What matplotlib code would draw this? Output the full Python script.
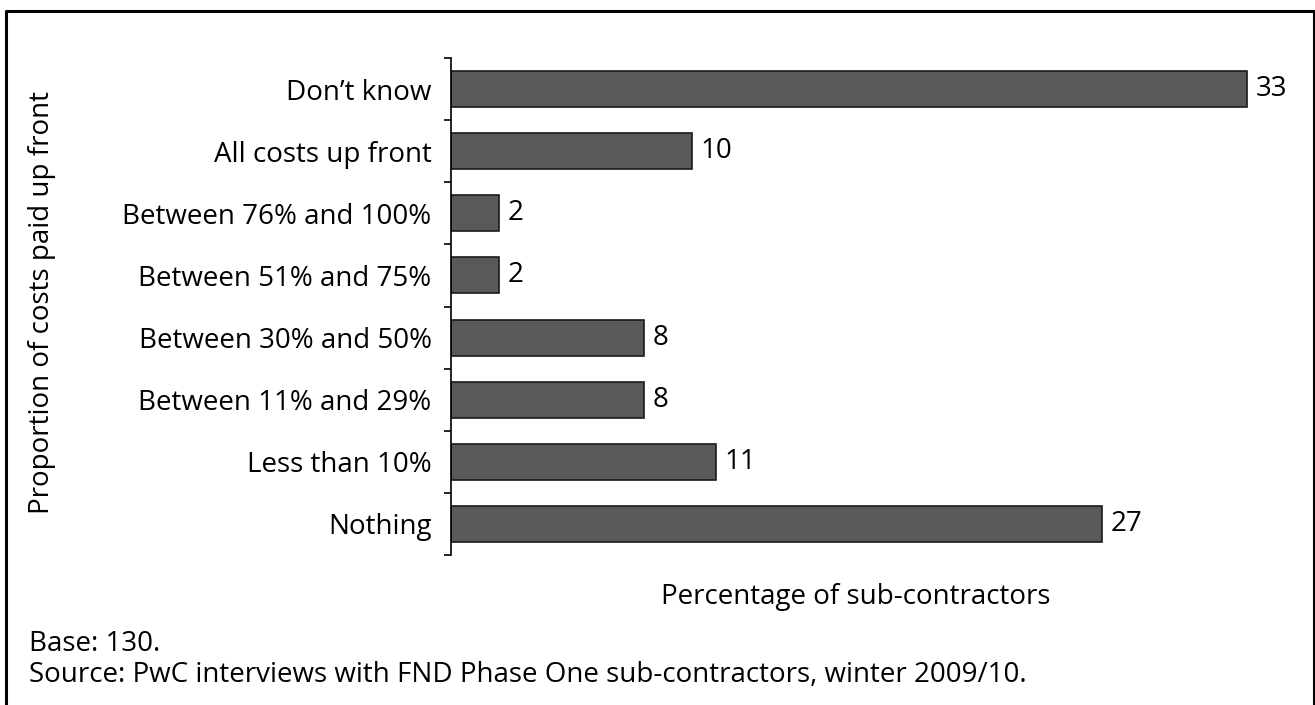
import matplotlib.pyplot as plt
from matplotlib.lines import Line2D

plt.rcParams['font.family'] = ['Open Sans', 'DejaVu Sans']

categories = ['Don\u2019t know', 'All costs up front', 'Between 76% and 100%',
              'Between 51% and 75%', 'Between 30% and 50%', 'Between 11% and 29%',
              'Less than 10%', 'Nothing']
values = [33, 10, 2, 2, 8, 8, 11, 27]

W, H = 1315, 705
fig = plt.figure(figsize=(W / 100, H / 100), dpi=100)
ax = fig.add_axes([451 / W, 1 - 555 / H, 850 / W, (555 - 58) / H])

y = list(range(len(categories)))
ax.barh(y, values, height=0.58, color='#595959', edgecolor='#1a1a1a', linewidth=1.2)
ax.set_ylim(len(categories) - 0.5, -0.5)
ax.set_xlim(0, 850 / (796 / 33))

for yi, v in zip(y, values):
    ax.text(v + 0.35, yi, str(v), va='center', ha='left', fontsize=20)

ax.set_yticks(y)
ax.set_yticklabels(categories, fontsize=20)
ax.set_yticks([i - 0.5 for i in range(len(categories) + 1)], minor=True)
ax.tick_params(axis='y', which='major', length=0, pad=14)
ax.tick_params(axis='y', which='minor', length=5, width=1.2, direction='out')
ax.set_xticks([])
for s in ['top', 'right', 'bottom']:
    ax.spines[s].set_visible(False)
ax.spines['left'].set_linewidth(1.2)

fig.text(42 / W, 1 - 302 / H, 'Proportion of costs paid up front', rotation=90,
         ha='center', va='center', fontsize=20)
fig.text(856 / W, 1 - 597 / H, 'Percentage of sub-contractors', ha='center', va='center', fontsize=20)
fig.text(29 / W, 1 - 651 / H, 'Base: 130.', ha='left', va='baseline', fontsize=20)
fig.text(29 / W, 1 - 682 / H, 'Source: PwC interviews with FND Phase One sub-contractors, winter 2009/10.',
         ha='left', va='baseline', fontsize=20)

# frame around the figure (no bottom edge)
fig.add_artist(Line2D([6 / W, 6 / W, 1313.5 / W, 1313.5 / W], [0, 1 - 11 / H, 1 - 11 / H, 0],
                      transform=fig.transFigure, color='black', linewidth=2.2))

fig.savefig('out.png', dpi=100)
